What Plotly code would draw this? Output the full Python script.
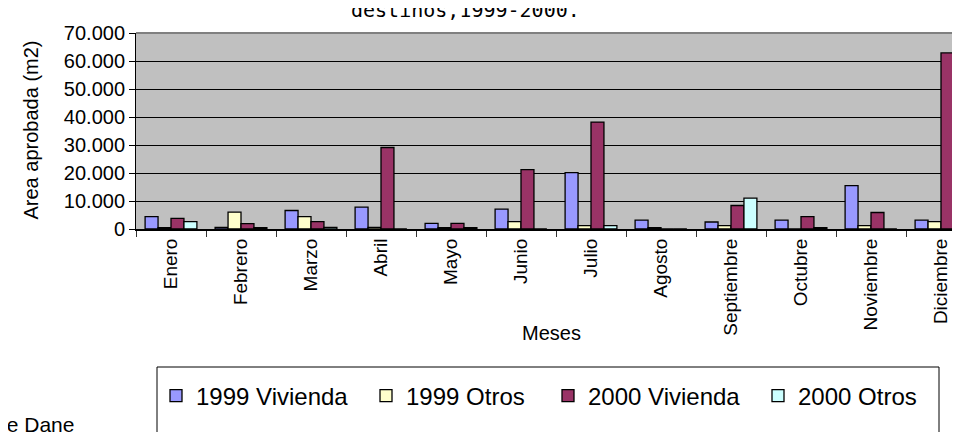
import plotly.graph_objects as go

meses = ["Enero", "Febrero", "Marzo", "Abril", "Mayo", "Junio", "Julio",
         "Agosto", "Septiembre", "Octubre", "Noviembre", "Diciembre"]
viv_1999 = [4400, 600, 6600, 7800, 2000, 7100, 20100, 3200, 2500, 3200, 15500, 3200]
otros_1999 = [500, 6000, 4400, 600, 500, 2600, 1200, 500, 1200, 0, 1200, 2600]
viv_2000 = [3800, 1900, 2600, 29100, 2000, 21200, 38200, 0, 8400, 4400, 5900, 62900]
otros_2000 = [2600, 500, 600, 0, 500, 0, 1200, 0, 11000, 500, 0, 0]
series_names = ["1999 Vivienda", "1999 Otros", "2000 Vivienda", "2000 Otros"]
series_colors = ["#9999FF", "#FFFFCC", "#993366", "#CCFFFF"]
y_tickvals = [0, 10000, 20000, 30000, 40000, 50000, 60000, 70000]
y_ticktext = ["0", "10.000", "20.000", "30.000", "40.000", "50.000", "60.000", "70.000"]

W, H = 960, 432
ML, MR, MT, MB = 128, 0, 25, 211
PW = W - ML - MR
PH = H - MT - MB


def px_x(px):
    return (px - ML) / PW


def px_y(py):
    return (H - MB - py) / PH


FONT = "Liberation Sans, Arial, sans-serif"

fig = go.Figure()
legend_ids = ["legend", "legend2", "legend3", "legend4"]
for name, vals, col, lg in zip(series_names, [viv_1999, otros_1999, viv_2000, otros_2000],
                               series_colors, legend_ids):
    fig.add_trace(go.Bar(
        x=meses, y=vals, name=name, legend=lg,
        marker=dict(color=col, line=dict(color="black", width=1.3)),
    ))

sym_centers = [168, 378, 560, 770]
leg_y = px_y(388)
legends = {}
for lg, cx in zip(legend_ids, sym_centers):
    legends[lg] = dict(
        x=px_x(cx - 20), xanchor="left", y=leg_y, yanchor="middle",
        orientation="h", bgcolor="rgba(0,0,0,0)", borderwidth=0,
        font=dict(family=FONT, size=24, color="black"),
    )

fig.update_layout(
    width=W, height=H,
    margin=dict(l=ML, r=MR, t=MT, b=MB, pad=0),
    paper_bgcolor="white", plot_bgcolor="#C0C0C0",
    barmode="group", bargap=0.26, bargroupgap=0,
    font=dict(family=FONT, size=19, color="black"),
    showlegend=True,
    **legends,
    xaxis=dict(
        range=[-0.5, -0.5 + PW / 70.0], showgrid=False,
        showline=True, linecolor="black", linewidth=2,
        ticks="outside", tickson="boundaries", ticklen=6, tickcolor="#333333",
        tickangle=-90, tickfont=dict(family=FONT, size=19, color="black"),
        fixedrange=True,
    ),
    yaxis=dict(
        range=[0, 70000], tickvals=y_tickvals, ticktext=y_ticktext,
        showgrid=True, gridcolor="black", gridwidth=1,
        showline=True, linecolor="black", linewidth=1,
        ticks="outside", ticklen=6, tickcolor="black",
        tickfont=dict(family=FONT, size=20, color="black"),
        zeroline=False, fixedrange=True,
    ),
    shapes=[
        dict(type="line", xref="paper", yref="paper", x0=0, x1=1.01, y0=1, y1=1,
             line=dict(color="#808080", width=2), layer="above"),
        dict(type="rect", xref="paper", yref="paper",
             x0=px_x(149), x1=px_x(931), y0=px_y(359), y1=px_y(445),
             line=dict(color="black", width=1), fillcolor="rgba(0,0,0,0)"),
    ],
    annotations=[
        dict(text="destinos,1999-2000.", xref="paper", yref="paper",
             x=px_x(457), y=px_y(16), xanchor="center", yanchor="bottom",
             showarrow=False, font=dict(family="DejaVu Sans Mono", size=20, color="black")),
        dict(text="Area aprobada (m2)", xref="paper", yref="paper", textangle=-90,
             x=px_x(22), y=px_y(122.5), xanchor="center", yanchor="middle",
             showarrow=False, font=dict(family=FONT, size=20, color="black")),
        dict(text="Meses", xref="paper", yref="paper",
             x=px_x(543), y=px_y(325), xanchor="center", yanchor="middle",
             showarrow=False, font=dict(family=FONT, size=20, color="black")),
        dict(text="Fuente Dane", xref="paper", yref="paper",
             x=px_x(68), y=px_y(416), xanchor="right", yanchor="middle",
             showarrow=False, font=dict(family=FONT, size=21, color="black")),
    ],
)

fig.write_html("out.html", config={"displayModeBar": False})
